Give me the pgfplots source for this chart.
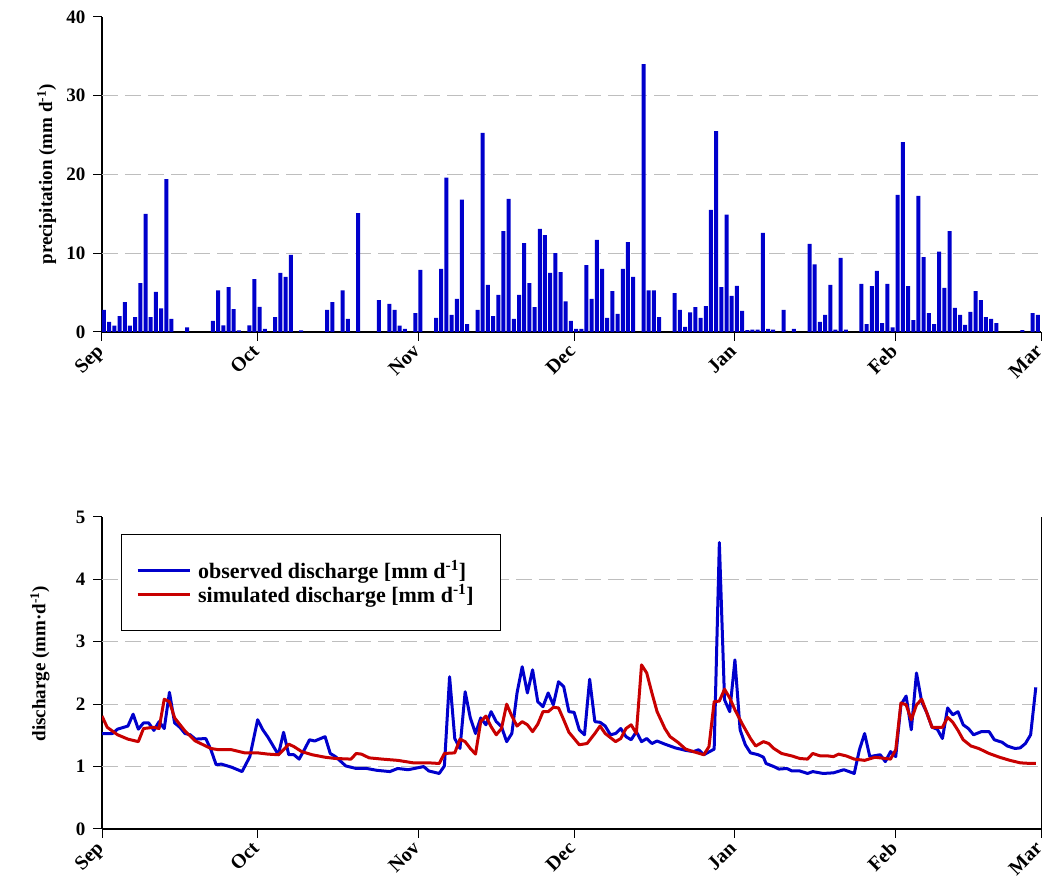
\documentclass[border=0pt]{standalone}
\usepackage{fontspec}
\setmainfont{Liberation Serif}
\usepackage{pgfplots}
\usepackage{pgfplotstable}
\pgfplotsset{compat=1.18}
\definecolor{obsblue}{RGB}{0,0,204}
\definecolor{simred}{RGB}{200,0,0}
\definecolor{gridgray}{RGB}{190,190,190}

\pgfplotstableread{
d p
0 2.8
1 1.3
2 0.8
3 2.0
4 3.8
5 0.8
6 1.9
7 6.2
8 15.0
9 1.9
10 5.1
11 3.0
12 19.4
13 1.65
16 0.6
21 1.4
22 5.3
23 0.85
24 5.7
25 2.9
26 0.2
28 0.85
29 6.7
30 3.2
31 0.4
33 1.9
34 7.5
35 7.0
36 9.8
38 0.2
43 2.8
44 3.8
46 5.3
47 1.65
49 15.1
53 4.06
55 3.56
56 2.8
57 0.8
58 0.4
60 2.4
61 7.9
64 1.78
65 8.0
66 19.6
67 2.16
68 4.2
69 16.8
70 1.0
72 2.8
73 25.3
74 5.97
75 2.03
76 4.7
77 12.8
78 16.9
79 1.65
80 4.7
81 11.3
82 6.2
83 3.17
84 13.1
85 12.3
86 7.5
87 10.0
88 7.6
89 3.9
90 1.4
91 0.4
92 0.4
93 8.5
94 4.2
95 11.7
96 8.0
97 1.78
98 5.2
99 2.3
100 8.0
101 11.4
102 7.0
104 34.0
105 5.3
106 5.3
107 1.9
110 4.95
111 2.8
112 0.65
113 2.5
114 3.17
115 1.78
116 3.3
117 15.5
118 25.5
119 5.7
120 14.9
121 4.6
122 5.85
123 2.67
124 0.25
125 0.3
126 0.3
127 12.6
128 0.4
129 0.3
131 2.8
133 0.4
136 11.2
137 8.6
138 1.3
139 2.16
140 5.97
141 0.3
142 9.4
143 0.3
146 6.1
147 1.0
148 5.84
149 7.75
150 1.14
151 6.1
152 0.6
153 17.4
154 24.1
155 5.84
156 1.5
157 17.3
158 9.5
159 2.4
160 1.0
161 10.2
162 5.6
163 12.8
164 3.05
165 2.16
166 0.9
167 2.54
168 5.2
169 4.06
170 1.9
171 1.65
172 1.14
177 0.25
179 2.4
180 2.16
}\precip

\pgfplotstableread{
d q
0 1.53
2 1.53
3 1.6
5 1.65
6 1.84
7 1.6
8 1.7
9 1.7
10 1.58
11 1.72
12 1.61
13 2.19
14 1.7
15 1.63
16 1.53
17 1.51
18 1.44
20 1.45
21 1.27
22 1.03
23 1.04
25 0.99
27 0.92
28.5 1.16
30 1.75
31 1.59
32 1.47
34 1.19
35 1.55
36 1.19
37 1.19
38 1.12
39 1.27
40 1.43
41 1.41
43 1.48
44 1.21
45 1.16
47 1.01
49 0.97
51 0.97
53 0.94
55.5 0.92
57 0.97
59 0.95
62 1.0
63 0.93
65 0.89
66 1.01
67 2.44
68 1.45
69 1.29
70 2.2
71 1.78
72 1.53
73 1.78
74 1.67
75 1.88
76 1.72
77 1.64
78 1.4
79 1.53
80 2.18
81 2.6
82 2.18
83 2.55
84 2.04
85 1.96
86 2.18
87 1.99
88 2.36
89 2.28
90 1.88
91 1.87
92 1.59
93 1.51
94 2.4
95 1.72
96 1.71
97 1.65
98 1.51
99 1.53
100 1.61
101 1.48
102 1.43
103 1.56
104 1.4
105 1.45
106 1.37
107 1.41
108.5 1.36
110.5 1.3
112.5 1.26
114 1.24
115 1.27
116 1.19
118 1.28
119 4.59
120 2.07
121 1.88
122 2.71
123 1.59
124 1.35
125 1.22
126.5 1.19
127.5 1.15
128 1.05
129.5 1.0
130.5 0.96
132 0.97
133 0.93
134.5 0.93
136 0.89
137 0.92
139 0.89
141 0.9
143 0.95
145 0.89
146 1.27
147 1.53
148 1.16
150 1.19
151 1.08
152 1.24
153 1.16
154 1.99
155 2.13
156 1.59
157 2.5
158 2.04
159 1.86
160 1.63
161 1.6
162 1.45
163 1.94
164 1.83
165 1.88
166 1.67
167 1.61
168 1.51
169.5 1.56
171 1.56
172 1.43
173.5 1.39
174.5 1.33
176 1.29
177 1.3
178 1.37
179 1.51
180 2.27
}\observed

\pgfplotstableread{
d q
0 1.81
1 1.63
3 1.51
5 1.44
7 1.4
8 1.61
10 1.63
11 1.61
12 2.08
13 2.04
14 1.78
16 1.57
18 1.41
21 1.29
22.5 1.27
25 1.27
27.5 1.22
30 1.22
32 1.2
34 1.19
35 1.27
36 1.36
37 1.32
38.5 1.24
40.5 1.19
43 1.15
45 1.13
48 1.12
49 1.21
50 1.2
51.5 1.14
54 1.12
57 1.1
60 1.06
63 1.06
65 1.05
66 1.21
68 1.22
69 1.44
70 1.4
71 1.29
72 1.2
73 1.72
74 1.81
75 1.64
76 1.51
77 1.61
78 2.0
79 1.81
80 1.65
81 1.72
82 1.67
83 1.56
84 1.68
85 1.88
86 1.88
87 1.95
88 1.94
89 1.75
90 1.55
92 1.35
93.5 1.37
95 1.53
96 1.65
97 1.53
99 1.4
100 1.45
101 1.61
102 1.67
103 1.53
104 2.63
105 2.5
106 2.18
107 1.88
108.5 1.61
109.5 1.48
111 1.39
112.5 1.28
114 1.24
116 1.19
117 1.32
118 2.04
119 2.05
120 2.24
121 2.1
122 1.91
123.5 1.67
125 1.45
126 1.33
127.5 1.4
128.5 1.37
129.5 1.29
131 1.21
133 1.17
134.5 1.13
136 1.12
137 1.21
138.5 1.17
140 1.17
141 1.16
142 1.2
143.5 1.17
145 1.12
147 1.1
149 1.15
152 1.12
153 1.27
154 2.02
155 1.99
156 1.75
157 1.99
158 2.08
159 1.86
160 1.63
161 1.63
162 1.63
163 1.79
164 1.71
165 1.58
166 1.43
167.5 1.33
169 1.29
171 1.21
173 1.15
175 1.1
177 1.06
179 1.05
180 1.05
}\simulated

\pgfplotsset{
  common/.style={
    scale only axis,
    width=939pt,
    xmin=0, xmax=181,
    axis x line*=bottom,
    axis y line*=left,
    axis line style={black, line width=1.2pt, -},
    xtick={0,30,61,91,122,153,181},
    xticklabels={Sep,Oct,Nov,Dec,Jan,Feb,Mar},
    x tick label style={xshift=-7pt, yshift=-2pt, rotate=45, anchor=north east, inner sep=0pt,
      font=\bfseries\fontsize{20}{22}\selectfont},
    y tick label style={font=\bfseries\fontsize{19}{22}\selectfont, xshift=-4pt},
    /pgf/number format/assume math mode=true,
    tick align=outside,
    major tick length=9pt,
    tick style={black, line width=1pt},
    ylabel style={font=\bfseries\fontsize{19}{22}\selectfont, anchor=center},
    major grid style={gridgray, line width=1pt, dash pattern=on 16pt off 7pt},
    extra y tick labels={},
    extra y tick style={ymajorgrids=true, major tick length=0pt},
  }
}

\begin{document}
\begin{tikzpicture}
\useasboundingbox (0,0) rectangle (1045pt,888pt);

\begin{axis}[common,
  at={(102pt,556pt)}, anchor=south west,
  height=315pt,
  ymin=0, ymax=40,
  ytick={0,10,20,30,40},
  extra y ticks={10,20,30},
  ylabel={precipitation (mm d\textsuperscript{-1})},
  ylabel style={at={(axis description cs:-0.059,0.5)}},
]
\addplot[ybar, bar width=4pt, bar shift=2pt, fill=obsblue, draw=none] table[x=d, y=p] {\precip};
\end{axis}

\begin{axis}[common,
  name=bot,
  at={(102pt,59pt)}, anchor=south west,
  height=312pt,
  ymin=0, ymax=5,
  ytick={0,1,2,3,4,5},
  extra y ticks={1,2,3,4},
  ylabel={discharge (mm·d\textsuperscript{-1})},
  ylabel style={at={(axis description cs:-0.066,0.53)}},
  legend style={at={(0.02,0.945)}, anchor=north west, draw=black, line width=0.8pt,
    font=\bfseries\fontsize{22}{24}\selectfont,
    inner xsep=15pt, inner ysep=24pt, row sep=1pt, cells={anchor=west}},
  legend image code/.code={\draw[#1] (0pt,0pt) -- (52pt,0pt); \path (57pt,0pt);},
]
\addplot[obsblue, line width=3pt, line join=round] table[x=d, y=q] {\observed};
\addlegendentry{observed discharge [mm d\textsuperscript{-1}]}
\addplot[simred, line width=3pt, line join=round] table[x=d, y=q] {\simulated};
\addlegendentry{simulated discharge [mm d\textsuperscript{-1}]\hspace*{10pt}}
\end{axis}
\draw[black, line width=1pt] (bot.south east) -- (bot.north east);
\end{tikzpicture}
\end{document}
